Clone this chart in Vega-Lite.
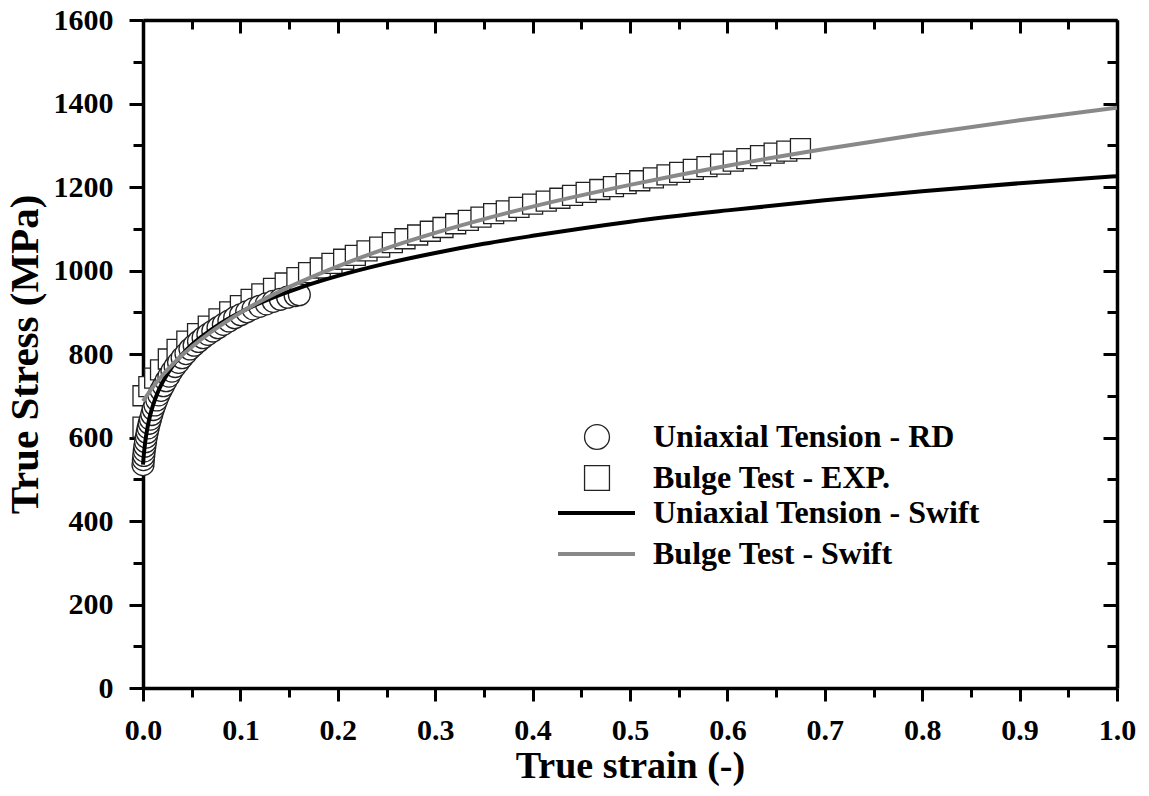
{
  "$schema": "https://vega.github.io/schema/vega-lite/v6.json",
  "width": 974,
  "height": 668,
  "autosize": "none",
  "padding": {"left": 143, "top": 20, "right": 32, "bottom": 108},
  "background": "white",
  "config": {
    "font": "Liberation Serif",
    "view": {"stroke": null},
    "axis": {"grid": false, "domainColor": "black", "domainWidth": 3.5, "tickColor": "black", "tickWidth": 3, "labelColor": "black", "titleColor": "black", "labelFont": "Liberation Serif", "titleFont": "Liberation Serif", "labelFontWeight": "bold", "titleFontWeight": "bold", "labelFontSize": 30, "titleFontSize": 38, "labelOverlap": false, "labelFlush": false}
  },
  "datasets": {
    "uniaxial": [
      {"strain": 0, "stress": 535}, {"strain": 0.0004, "stress": 547}, {"strain": 0.0008, "stress": 557}, {"strain": 0.0013, "stress": 568}, {"strain": 0.0019, "stress": 579}, {"strain": 0.0026, "stress": 590}, {"strain": 0.0034, "stress": 601}, {"strain": 0.0043, "stress": 612}, {"strain": 0.0053, "stress": 623}, {"strain": 0.0064, "stress": 634}, {"strain": 0.0076, "stress": 644}, {"strain": 0.009, "stress": 655}, {"strain": 0.0105, "stress": 667}, {"strain": 0.0122, "stress": 678}, {"strain": 0.0141, "stress": 690}, {"strain": 0.0162, "stress": 702}, {"strain": 0.0185, "stress": 713}, {"strain": 0.021, "stress": 724}, {"strain": 0.0237, "stress": 736}, {"strain": 0.0266, "stress": 747}, {"strain": 0.0297, "stress": 759}, {"strain": 0.033, "stress": 770}, {"strain": 0.0365, "stress": 780}, {"strain": 0.0402, "stress": 791}, {"strain": 0.0441, "stress": 801}, {"strain": 0.0482, "stress": 812}, {"strain": 0.0525, "stress": 821}, {"strain": 0.057, "stress": 830}, {"strain": 0.0617, "stress": 839}, {"strain": 0.0666, "stress": 847}, {"strain": 0.0717, "stress": 855}, {"strain": 0.077, "stress": 863}, {"strain": 0.0825, "stress": 871}, {"strain": 0.0882, "stress": 879}, {"strain": 0.0941, "stress": 887}, {"strain": 0.1002, "stress": 894}, {"strain": 0.1065, "stress": 901}, {"strain": 0.113, "stress": 908}, {"strain": 0.1197, "stress": 914}, {"strain": 0.1266, "stress": 920}, {"strain": 0.1337, "stress": 926}, {"strain": 0.141, "stress": 931}, {"strain": 0.1485, "stress": 936}, {"strain": 0.1562, "stress": 940}, {"strain": 0.1605, "stress": 942}
    ],
    "bulge": [
      {"strain": 0, "stress": 625}, {"strain": 0, "stress": 700}, {"strain": 0.006, "stress": 722}, {"strain": 0.012, "stress": 742}, {"strain": 0.018, "stress": 762}, {"strain": 0.026, "stress": 788}, {"strain": 0.035, "stress": 811}, {"strain": 0.045, "stress": 831}, {"strain": 0.056, "stress": 849}, {"strain": 0.067, "stress": 867}, {"strain": 0.078, "stress": 884}, {"strain": 0.089, "stress": 901}, {"strain": 0.1, "stress": 916}, {"strain": 0.111, "stress": 931}, {"strain": 0.122, "stress": 944}, {"strain": 0.134, "stress": 957}, {"strain": 0.146, "stress": 970}, {"strain": 0.158, "stress": 983}, {"strain": 0.17, "stress": 995}, {"strain": 0.182, "stress": 1006}, {"strain": 0.194, "stress": 1017}, {"strain": 0.206, "stress": 1027}, {"strain": 0.218, "stress": 1036}, {"strain": 0.23, "stress": 1047}, {"strain": 0.243, "stress": 1056}, {"strain": 0.256, "stress": 1067}, {"strain": 0.269, "stress": 1076}, {"strain": 0.282, "stress": 1085}, {"strain": 0.295, "stress": 1094}, {"strain": 0.308, "stress": 1103}, {"strain": 0.321, "stress": 1112}, {"strain": 0.334, "stress": 1120}, {"strain": 0.347, "stress": 1128}, {"strain": 0.36, "stress": 1136}, {"strain": 0.373, "stress": 1143}, {"strain": 0.386, "stress": 1151}, {"strain": 0.4, "stress": 1159}, {"strain": 0.414, "stress": 1166}, {"strain": 0.428, "stress": 1173}, {"strain": 0.441, "stress": 1180}, {"strain": 0.455, "stress": 1187}, {"strain": 0.469, "stress": 1194}, {"strain": 0.483, "stress": 1201}, {"strain": 0.496, "stress": 1208}, {"strain": 0.51, "stress": 1215}, {"strain": 0.524, "stress": 1222}, {"strain": 0.538, "stress": 1229}, {"strain": 0.551, "stress": 1235}, {"strain": 0.565, "stress": 1242}, {"strain": 0.579, "stress": 1249}, {"strain": 0.593, "stress": 1255}, {"strain": 0.606, "stress": 1262}, {"strain": 0.62, "stress": 1268}, {"strain": 0.634, "stress": 1275}, {"strain": 0.648, "stress": 1281}, {"strain": 0.661, "stress": 1286}, {"strain": 0.675, "stress": 1292}
    ],
    "fits": [
      {"fit": "Uniaxial Tension - Swift", "strain": 0, "stress": 535}, {"fit": "Uniaxial Tension - Swift", "strain": 0.001, "stress": 563}, {"fit": "Uniaxial Tension - Swift", "strain": 0.002, "stress": 584}, {"fit": "Uniaxial Tension - Swift", "strain": 0.003, "stress": 601}, {"fit": "Uniaxial Tension - Swift", "strain": 0.004, "stress": 616}, {"fit": "Uniaxial Tension - Swift", "strain": 0.006, "stress": 640}, {"fit": "Uniaxial Tension - Swift", "strain": 0.008, "stress": 659}, {"fit": "Uniaxial Tension - Swift", "strain": 0.01, "stress": 675}, {"fit": "Uniaxial Tension - Swift", "strain": 0.015, "stress": 707}, {"fit": "Uniaxial Tension - Swift", "strain": 0.02, "stress": 732}, {"fit": "Uniaxial Tension - Swift", "strain": 0.025, "stress": 752}, {"fit": "Uniaxial Tension - Swift", "strain": 0.03, "stress": 770}, {"fit": "Uniaxial Tension - Swift", "strain": 0.04, "stress": 798}, {"fit": "Uniaxial Tension - Swift", "strain": 0.05, "stress": 822}, {"fit": "Uniaxial Tension - Swift", "strain": 0.06, "stress": 841}, {"fit": "Uniaxial Tension - Swift", "strain": 0.08, "stress": 874}, {"fit": "Uniaxial Tension - Swift", "strain": 0.1, "stress": 900}, {"fit": "Uniaxial Tension - Swift", "strain": 0.13, "stress": 932}, {"fit": "Uniaxial Tension - Swift", "strain": 0.16, "stress": 958}, {"fit": "Uniaxial Tension - Swift", "strain": 0.2, "stress": 987}, {"fit": "Uniaxial Tension - Swift", "strain": 0.25, "stress": 1017}, {"fit": "Uniaxial Tension - Swift", "strain": 0.3, "stress": 1042}, {"fit": "Uniaxial Tension - Swift", "strain": 0.35, "stress": 1064}, {"fit": "Uniaxial Tension - Swift", "strain": 0.4, "stress": 1083}, {"fit": "Uniaxial Tension - Swift", "strain": 0.5, "stress": 1117}, {"fit": "Uniaxial Tension - Swift", "strain": 0.6, "stress": 1144}, {"fit": "Uniaxial Tension - Swift", "strain": 0.7, "stress": 1168}, {"fit": "Uniaxial Tension - Swift", "strain": 0.8, "stress": 1190}, {"fit": "Uniaxial Tension - Swift", "strain": 0.9, "stress": 1209}, {"fit": "Uniaxial Tension - Swift", "strain": 1.0, "stress": 1226},
      {"fit": "Bulge Test - Swift", "strain": 0, "stress": 687}, {"fit": "Bulge Test - Swift", "strain": 0.005, "stress": 704}, {"fit": "Bulge Test - Swift", "strain": 0.01, "stress": 720}, {"fit": "Bulge Test - Swift", "strain": 0.02, "stress": 749}, {"fit": "Bulge Test - Swift", "strain": 0.03, "stress": 774}, {"fit": "Bulge Test - Swift", "strain": 0.04, "stress": 797}, {"fit": "Bulge Test - Swift", "strain": 0.05, "stress": 817}, {"fit": "Bulge Test - Swift", "strain": 0.07, "stress": 853}, {"fit": "Bulge Test - Swift", "strain": 0.1, "stress": 899}, {"fit": "Bulge Test - Swift", "strain": 0.13, "stress": 938}, {"fit": "Bulge Test - Swift", "strain": 0.16, "stress": 971}, {"fit": "Bulge Test - Swift", "strain": 0.2, "stress": 1010}, {"fit": "Bulge Test - Swift", "strain": 0.25, "stress": 1053}, {"fit": "Bulge Test - Swift", "strain": 0.3, "stress": 1090}, {"fit": "Bulge Test - Swift", "strain": 0.35, "stress": 1123}, {"fit": "Bulge Test - Swift", "strain": 0.4, "stress": 1153}, {"fit": "Bulge Test - Swift", "strain": 0.5, "stress": 1205}, {"fit": "Bulge Test - Swift", "strain": 0.6, "stress": 1251}, {"fit": "Bulge Test - Swift", "strain": 0.7, "stress": 1291}, {"fit": "Bulge Test - Swift", "strain": 0.8, "stress": 1327}, {"fit": "Bulge Test - Swift", "strain": 0.9, "stress": 1360}, {"fit": "Bulge Test - Swift", "strain": 1.0, "stress": 1390}
    ]
  },
  "resolve": {"axis": {"x": "independent", "y": "independent"}},
  "layer": [
    {
      "data": {"name": "bulge"},
      "transform": [{"calculate": "'Bulge Test - EXP.'", "as": "series"}],
      "mark": {"type": "point", "filled": false, "fill": "white", "strokeWidth": 1.3, "size": 400, "opacity": 1},
      "encoding": {
        "x": {"field": "strain", "type": "quantitative", "scale": {"domain": [0, 1], "nice": false, "zero": false},
          "axis": {"orient": "bottom", "title": "True strain (-)", "values": [0, 0.05, 0.1, 0.15, 0.2, 0.25, 0.3, 0.35, 0.4, 0.45, 0.5, 0.55, 0.6, 0.65, 0.7, 0.75, 0.8, 0.85, 0.9, 0.95, 1.0],
            "labelExpr": "round(datum.value*20) % 2 == 0 ? format(datum.value, '.1f') : ''",
            "tickSize": {"condition": {"test": "round(datum.value*20) % 2 == 0", "value": 13}, "value": 9},
            "labelFont": "Liberation Serif", "titleFont": "Liberation Serif", "labelFontSize": 30, "titleFontSize": 38,
            "labelPadding": 14, "titlePadding": 2}},
        "y": {"field": "stress", "type": "quantitative", "scale": {"domain": [0, 1600], "nice": false},
          "axis": {"orient": "left", "title": "True Stress (MPa)", "values": [0, 100, 200, 300, 400, 500, 600, 700, 800, 900, 1000, 1100, 1200, 1300, 1400, 1500, 1600],
            "labelExpr": "datum.value % 200 == 0 ? format(datum.value, 'd') : ''",
            "tickSize": {"condition": {"test": "datum.value % 200 == 0", "value": 14}, "value": 10},
            "labelFont": "Liberation Serif", "titleFont": "Liberation Serif", "labelFontSize": 30, "titleFontSize": 41,
            "labelPadding": 16, "titlePadding": 7}},
        "color": {"field": "series", "type": "nominal",
          "scale": {"domain": ["Uniaxial Tension - RD", "Bulge Test - EXP."], "range": ["#222222", "#222222"]},
          "legend": {"orient": "none", "legendX": 438, "legendY": 402, "title": null, "symbolSize": 620, "symbolStrokeWidth": 1.3, "symbolOpacity": 1, "labelFontSize": 32, "labelFont": "Liberation Serif", "labelFontWeight": "bold", "labelColor": "black", "labelOffset": 40, "rowPadding": 9, "clipHeight": 30, "labelLimit": 0, "padding": 0}},
        "shape": {"field": "series", "type": "nominal",
          "scale": {"domain": ["Uniaxial Tension - RD", "Bulge Test - EXP."], "range": ["circle", "square"]},
          "legend": {"orient": "none", "legendX": 438, "legendY": 402, "title": null, "symbolSize": 620, "symbolStrokeWidth": 1.3, "symbolOpacity": 1, "labelFontSize": 32, "labelFont": "Liberation Serif", "labelFontWeight": "bold", "labelColor": "black", "labelOffset": 40, "rowPadding": 9, "clipHeight": 30, "labelLimit": 0, "padding": 0}}
      }
    },
    {
      "data": {"name": "uniaxial"},
      "transform": [{"calculate": "'Uniaxial Tension - RD'", "as": "series"}],
      "mark": {"type": "point", "filled": false, "fill": "white", "strokeWidth": 1.3, "size": 480, "opacity": 1},
      "encoding": {
        "x": {"field": "strain", "type": "quantitative", "axis": null},
        "y": {"field": "stress", "type": "quantitative", "axis": null},
        "color": {"field": "series", "type": "nominal"},
        "shape": {"field": "series", "type": "nominal"}
      }
    },
    {
      "data": {"name": "fits"},
      "mark": {"type": "line", "strokeWidth": 4, "interpolate": "monotone"},
      "encoding": {
        "x": {"field": "strain", "type": "quantitative",
          "axis": {"orient": "top", "title": null, "labels": false, "values": [0, 0.05, 0.1, 0.15, 0.2, 0.25, 0.3, 0.35, 0.4, 0.45, 0.5, 0.55, 0.6, 0.65, 0.7, 0.75, 0.8, 0.85, 0.9, 0.95, 1.0],
            "tickSize": {"condition": {"test": "round(datum.value*20) % 2 == 0", "value": -13}, "value": -9}}},
        "y": {"field": "stress", "type": "quantitative",
          "axis": {"orient": "right", "title": null, "labels": false, "values": [0, 100, 200, 300, 400, 500, 600, 700, 800, 900, 1000, 1100, 1200, 1300, 1400, 1500, 1600],
            "tickSize": {"condition": {"test": "datum.value % 200 == 0", "value": -14}, "value": -10}}},
        "stroke": {"field": "fit", "type": "nominal",
          "scale": {"domain": ["Uniaxial Tension - Swift", "Bulge Test - Swift"], "range": ["#000000", "#898989"]},
          "legend": {"orient": "none", "legendX": 413, "legendY": 478, "title": null, "symbolType": "stroke", "symbolSize": 5929, "symbolStrokeWidth": 4, "labelFontSize": 32, "labelFont": "Liberation Serif", "labelFontWeight": "bold", "labelColor": "black", "labelOffset": 16, "rowPadding": 9, "clipHeight": 30, "labelLimit": 0, "padding": 0}}
      }
    }
  ]
}
